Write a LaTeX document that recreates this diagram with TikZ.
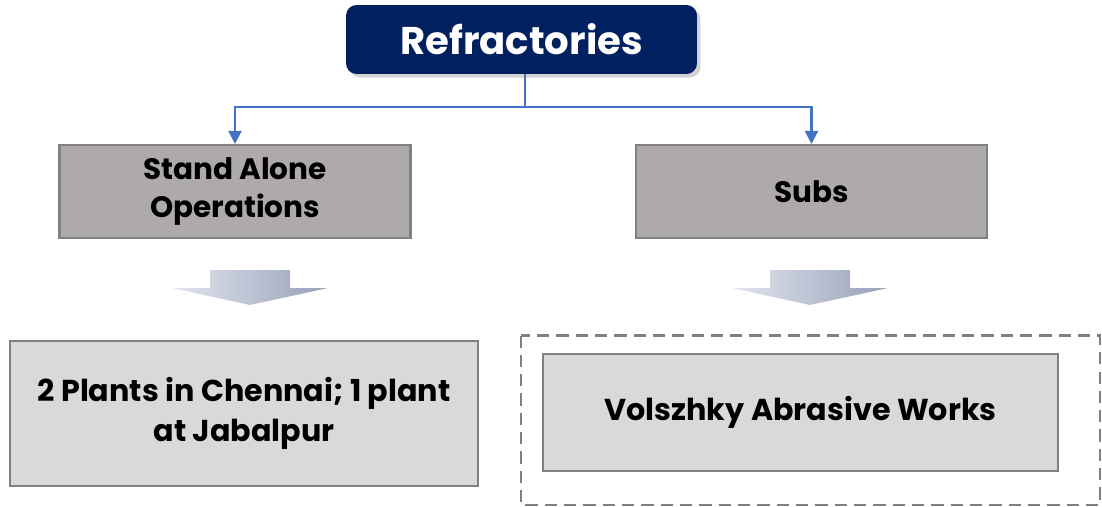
\documentclass[tikz,border=0pt]{standalone}
\usepackage{fontspec}
\setmainfont{Poppins}
\usepackage{tikz}
\usepackage{xcolor}
\usetikzlibrary{arrows.meta, positioning, calc, shadows}
\definecolor{cNavy}{RGB}{0,32,96}
\definecolor{cLink}{RGB}{68,114,196}
\definecolor{cMid}{RGB}{174,170,170}
\definecolor{cLight}{RGB}{217,217,217}
\definecolor{cEdge}{RGB}{128,128,128}
\definecolor{cArrowL}{RGB}{226,230,238}
\definecolor{cArrowR}{RGB}{150,160,185}
\tikzset{
	headbox/.style ={rectangle, rounded corners=6pt, minimum width=7.02cm, minimum height=1.38cm, align=center, fill=cNavy, text=white, font=\bfseries\fontsize{22}{26}\selectfont, drop shadow={opacity=0.35, shadow xshift=2pt, shadow yshift=-2pt}},
	groupbox/.style={rectangle, draw=cEdge, line width=1.2pt, minimum width=7.02cm, minimum height=1.86cm, align=center, fill=cMid, font=\bfseries\fontsize{16.8}{21.5}\selectfont},
	unitbox/.style ={rectangle, draw=cEdge, line width=1.2pt, align=center, fill=cLight, font=\bfseries\fontsize{17.2}{22.7}\selectfont},
	frame/.style   ={draw=cEdge, dashed, dash pattern=on 7pt off 4pt, line width=1.2pt},
	link/.style    ={-{Triangle[length=2.6mm, width=2.6mm]}, draw=cLink, line width=1.3pt},
	blockarrow/.style={left color=cArrowL, right color=cArrowR},
}
\begin{document}
\begin{tikzpicture}[x=0.02cm, y=-0.02cm]
	\useasboundingbox (0,0) rectangle (1102,507);
	\node[headbox] (ref) at (521.5,39.5) {Refractories};
	\node[groupbox] (sa) at (235,191.5) {Stand Alone\\Operations};
	\node[groupbox] (subs) at (811.5,191.5) {Subs};
	% block arrows
	\coordinate (al) at (250,270);
	\coordinate (ar) at (810,270);
	\foreach \c in {al, ar}
		\shade[blockarrow] ($(\c)+(-40,0)$) -- ($(\c)+(40,0)$) -- ($(\c)+(40,18)$) -- ($(\c)+(78,18)$) -- ($(\c)+(0,35)$) -- ($(\c)+(-78,18)$) -- ($(\c)+(-40,18)$) -- cycle;
	\node[unitbox, minimum width=9.36cm, minimum height=2.9cm] (chen) at (244,413.5) {2 Plants in Chennai; 1 plant\\at Jabalpur};
	\node[unitbox, minimum width=10.3cm, minimum height=2.34cm] (vaw) at (800.5,412.5) {Volszhky Abrasive Works};
	\draw[frame] (521,335.5) rectangle (1100,505);
	% connectors
	\coordinate (j) at (525,107);
	\draw[cLink, line width=0.6pt] (ref.south -| j) -- (j);
	\draw[link] (j) -| (sa.north);
	\draw[link] (j) -| (subs.north);
\end{tikzpicture}
\end{document}
